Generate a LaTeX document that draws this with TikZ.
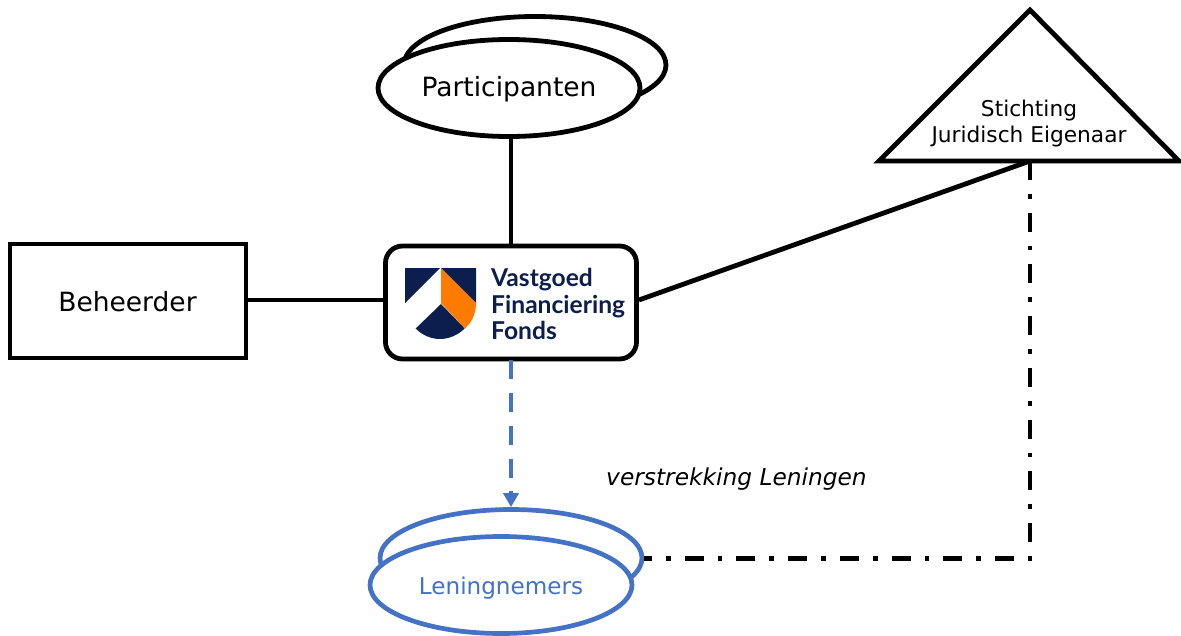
\documentclass[tikz,border=0pt]{standalone}
\usepackage{fontspec}
\setmainfont{DejaVu Sans}
\newfontfamily\logofont{Lato}
\usetikzlibrary{shapes.geometric,arrows.meta}
\definecolor{lnblue}{HTML}{4472C4}
\definecolor{navy}{HTML}{0B1E4E}
\definecolor{logoorange}{HTML}{FF7A00}
\tikzset{
  blk/.style={draw=black,line width=4.8pt,fill=white,align=center,inner sep=0pt,text=black},
  oval/.style={blk,ellipse,minimum width=262pt,minimum height=97pt},
  bluel/.style={oval,draw=lnblue,line width=4.7pt,text=lnblue},
  conn/.style={line width=4.8pt,draw=black},
}
\begin{document}
\begin{tikzpicture}[x=1pt,y=-1pt]
\useasboundingbox (0,0) rectangle (1181,635);
% Participanten
\node[oval] (partb) at (535,65) {};
\node[oval] (part) at (509,88) {};
\node[inner sep=0pt,font=\fontsize{26.5}{30}\selectfont] (partt) at (509,89) {Participanten};
% Beheerder
\node[blk,minimum width=236pt,minimum height=114pt] (beh) at (128,301) {};
\node[inner sep=0pt,font=\fontsize{26.5}{30}\selectfont] (beht) at (127.5,301.5) {Beheerder};
% Fund box
\node[blk,rounded corners=17pt,minimum width=251pt,minimum height=113pt] (fund) at (511,302.5) {};
% Triangle
\coordinate (ta) at (1030,10);
\coordinate (tl) at (879,161);
\coordinate (tr) at (1179,161);
\coordinate (tb) at (1030,161);
\draw[conn,line join=miter,fill=white] (ta) -- (tr) -- (tl) -- cycle;
\node[align=center,font=\fontsize{21.7}{26}\selectfont,inner sep=0pt] (stich) at (1029,123.5) {Stichting\\Juridisch Eigenaar};
% Logo
\fill[navy] (405,268) -- (440,268) -- (405,303) -- cycle;
\fill[navy] (441,268) -- (476,268) -- (476,303) -- cycle;
\fill[logoorange] (441,268) -- (476,303) .. controls (476,314) and (472,322) .. (465,328.5) -- (441,303) -- cycle;
\fill[navy] (441,304) -- (464.7,328.5) .. controls (458,335) and (449,339) .. (440,339) .. controls (431,339) and (422,335) .. (415.7,328.5) -- cycle;
\node[anchor=west,inner sep=0pt,text=navy,align=left,font=\logofont\bfseries\fontsize{24.6}{26.5}\selectfont] (logo) at (491,304) {Vastgoed\\Financiering\\Fonds};
% Leningnemers
\node[bluel] (lenb) at (511,558) {};
\node[bluel] (len) at (501,585) {};
\node[inner sep=0pt,text=lnblue,font=\fontsize{23.1}{26}\selectfont] (lent) at (501,588.5) {Leningnemers};
% Connectors
\draw[conn] (part) ++(2,48.5) coordinate (ps) -- (ps |- fund.north);
\draw[conn] (beh.east |- 0,300) -- (fund.west |- 0,300);
\draw[conn] (fund.east |- 0,300) -- (tb);
\draw[draw=lnblue,line width=4.7pt,dash pattern=on 19pt off 13.7pt,-{Triangle[length=14pt,width=15pt]}] (fund.south) ++(0,-1) -- (lenb.north);
\draw[conn,dash pattern=on 19pt off 14pt on 4.7pt off 14pt] (tb) -- (tb |- 0,558.5) -- (lenb.east |- 0,558.5);
\node[font=\itshape\fontsize{23.3}{27}\selectfont,inner sep=0pt] (verst) at (736.5,479) {verstrekking Leningen};
\end{tikzpicture}
\end{document}
